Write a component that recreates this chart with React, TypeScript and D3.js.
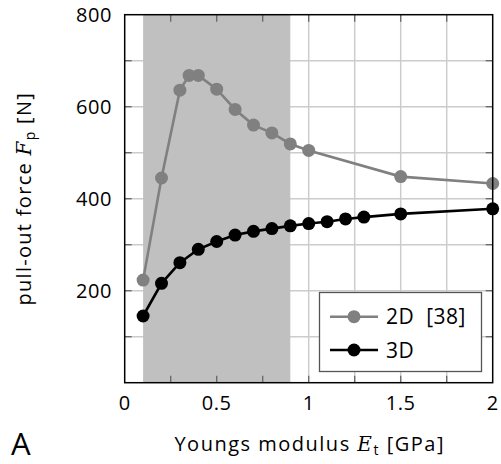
import React from "react";
import * as d3 from "d3";

const x2D = [0.1, 0.2, 0.3, 0.35, 0.4, 0.5, 0.6, 0.7, 0.8, 0.9, 1.0, 1.5, 2.0];
const y2D = [223, 445, 636, 668, 668, 638, 594, 560, 543, 519, 505, 448, 433];
const x3D = [0.1, 0.2, 0.3, 0.4, 0.5, 0.6, 0.7, 0.8, 0.9, 1.0, 1.1, 1.2, 1.3, 1.5, 2.0];
const y3D = [145, 216, 261, 290, 307, 321, 329, 335, 341, 346, 350, 356, 360, 367, 378];
const xTickLabels = [0, 0.5, 1, 1.5, 2];
const yTickLabels = [200, 400, 600, 800];
const xMinor = [0.25, 0.5, 0.75, 1, 1.25, 1.5, 1.75];
const yMinor = [100, 200, 300, 400, 500, 600, 700];
const shadeRange = [0.1, 0.9];
const seriesNames = ["2D  [38]", "3D"];

const W = 501, H = 464;
const L = 124.7, R = 492.7, T = 14.7, B = 382.7;
const FONT = "'Open Sans', 'DejaVu Sans', sans-serif";

export default function App() {
  const x = d3.scaleLinear().domain([0, 2]).range([L, R]);
  const y = d3.scaleLinear().domain([0, 800]).range([B, T]);
  const line = d3.line<[number, number]>().x(d => x(d[0])).y(d => y(d[1]));
  const d2 = x2D.map((v, i) => [v, y2D[i]] as [number, number]);
  const d3d = x3D.map((v, i) => [v, y3D[i]] as [number, number]);
  const grey = "#808080";
  const gridC = "#cccccc";
  const tickC = "#666666";
  const lgX = 319.5, lgY = 292.5, lgW = 162, lgH = 79;
  return (
    <svg width={W} height={H} style={{ position: "absolute", left: 0, top: 0, background: "#fff" }} fontFamily={FONT}>
      <rect x={0} y={0} width={W} height={H} fill="#fff" />
      {xMinor.map(v => (
        <line key={"gx" + v} x1={x(v)} x2={x(v)} y1={T} y2={B} stroke={gridC} strokeWidth={1.5} />
      ))}
      {yMinor.map(v => (
        <line key={"gy" + v} x1={L} x2={R} y1={y(v)} y2={y(v)} stroke={gridC} strokeWidth={1.5} />
      ))}
      <rect x={x(shadeRange[0])} y={T} width={x(shadeRange[1]) - x(shadeRange[0])} height={B - T} fill="#c0c0c0" />
      {xMinor.map(v => (
        <g key={"tx" + v}>
          <line x1={x(v)} x2={x(v)} y1={T} y2={T + 7} stroke={tickC} strokeWidth={1.3} />
          <line x1={x(v)} x2={x(v)} y1={B} y2={B - 7} stroke={tickC} strokeWidth={1.3} />
        </g>
      ))}
      {yMinor.map(v => (
        <g key={"ty" + v}>
          <line x1={L} x2={L + 7} y1={y(v)} y2={y(v)} stroke={tickC} strokeWidth={1.3} />
          <line x1={R} x2={R - 7} y1={y(v)} y2={y(v)} stroke={tickC} strokeWidth={1.3} />
        </g>
      ))}
      <path d={line(d2) || ""} fill="none" stroke={grey} strokeWidth={2.6} />
      {d2.map((p, i) => <circle key={"c2" + i} cx={x(p[0])} cy={y(p[1])} r={6.5} fill={grey} />)}
      <path d={line(d3d) || ""} fill="none" stroke="#000" strokeWidth={2.6} />
      {d3d.map((p, i) => <circle key={"c3" + i} cx={x(p[0])} cy={y(p[1])} r={6.5} fill="#000" />)}
      <rect x={L} y={T} width={R - L} height={B - T} fill="none" stroke="#000" strokeWidth={1.5} />
      {xTickLabels.map(v => (
        <text key={"xl" + v} x={x(v)} y={410} textAnchor="middle" fontSize={20} letterSpacing={0.6}>{v}</text>
      ))}
      {yTickLabels.map(v => (
        <text key={"yl" + v} x={112} y={y(v) + 7} textAnchor="end" fontSize={20} letterSpacing={0.6}>{v}</text>
      ))}
      <text x={x(1) + 1} y={451} textAnchor="middle" fontSize={20} letterSpacing={1.5}>
        Youngs modulus <tspan fontStyle="italic" fontFamily="'DejaVu Serif', serif">E</tspan><tspan fontSize={14} dy={4}>t</tspan><tspan dy={-4}> [GPa]</tspan>
      </text>
      <text x={11} y={455} fontSize={31}>A</text>
      <text transform={`translate(31, ${(T + B) / 2}) rotate(-90)`} textAnchor="middle" fontSize={20} letterSpacing={1.3}>
        pull-out force <tspan fontStyle="italic" fontFamily="'DejaVu Serif', serif">F</tspan><tspan fontSize={14} dy={4}>p</tspan><tspan dy={-4}> [N]</tspan>
      </text>
      <rect x={lgX} y={lgY} width={lgW} height={lgH} fill="#fff" stroke="#555" strokeWidth={1.3} />
      {[grey, "#000"].map((c, i) => {
        const yy = 316.7 + i * 33.3;
        return (
          <g key={"lg" + i}>
            <line x1={330} x2={378} y1={yy} y2={yy} stroke={c} strokeWidth={2.6} />
            <circle cx={354} cy={yy} r={6.5} fill={c} />
            <text x={386} y={yy + 7.5} fontSize={21} letterSpacing={0.5} style={{ whiteSpace: "pre" }}>{seriesNames[i]}</text>
          </g>
        );
      })}
    </svg>
  );
}
